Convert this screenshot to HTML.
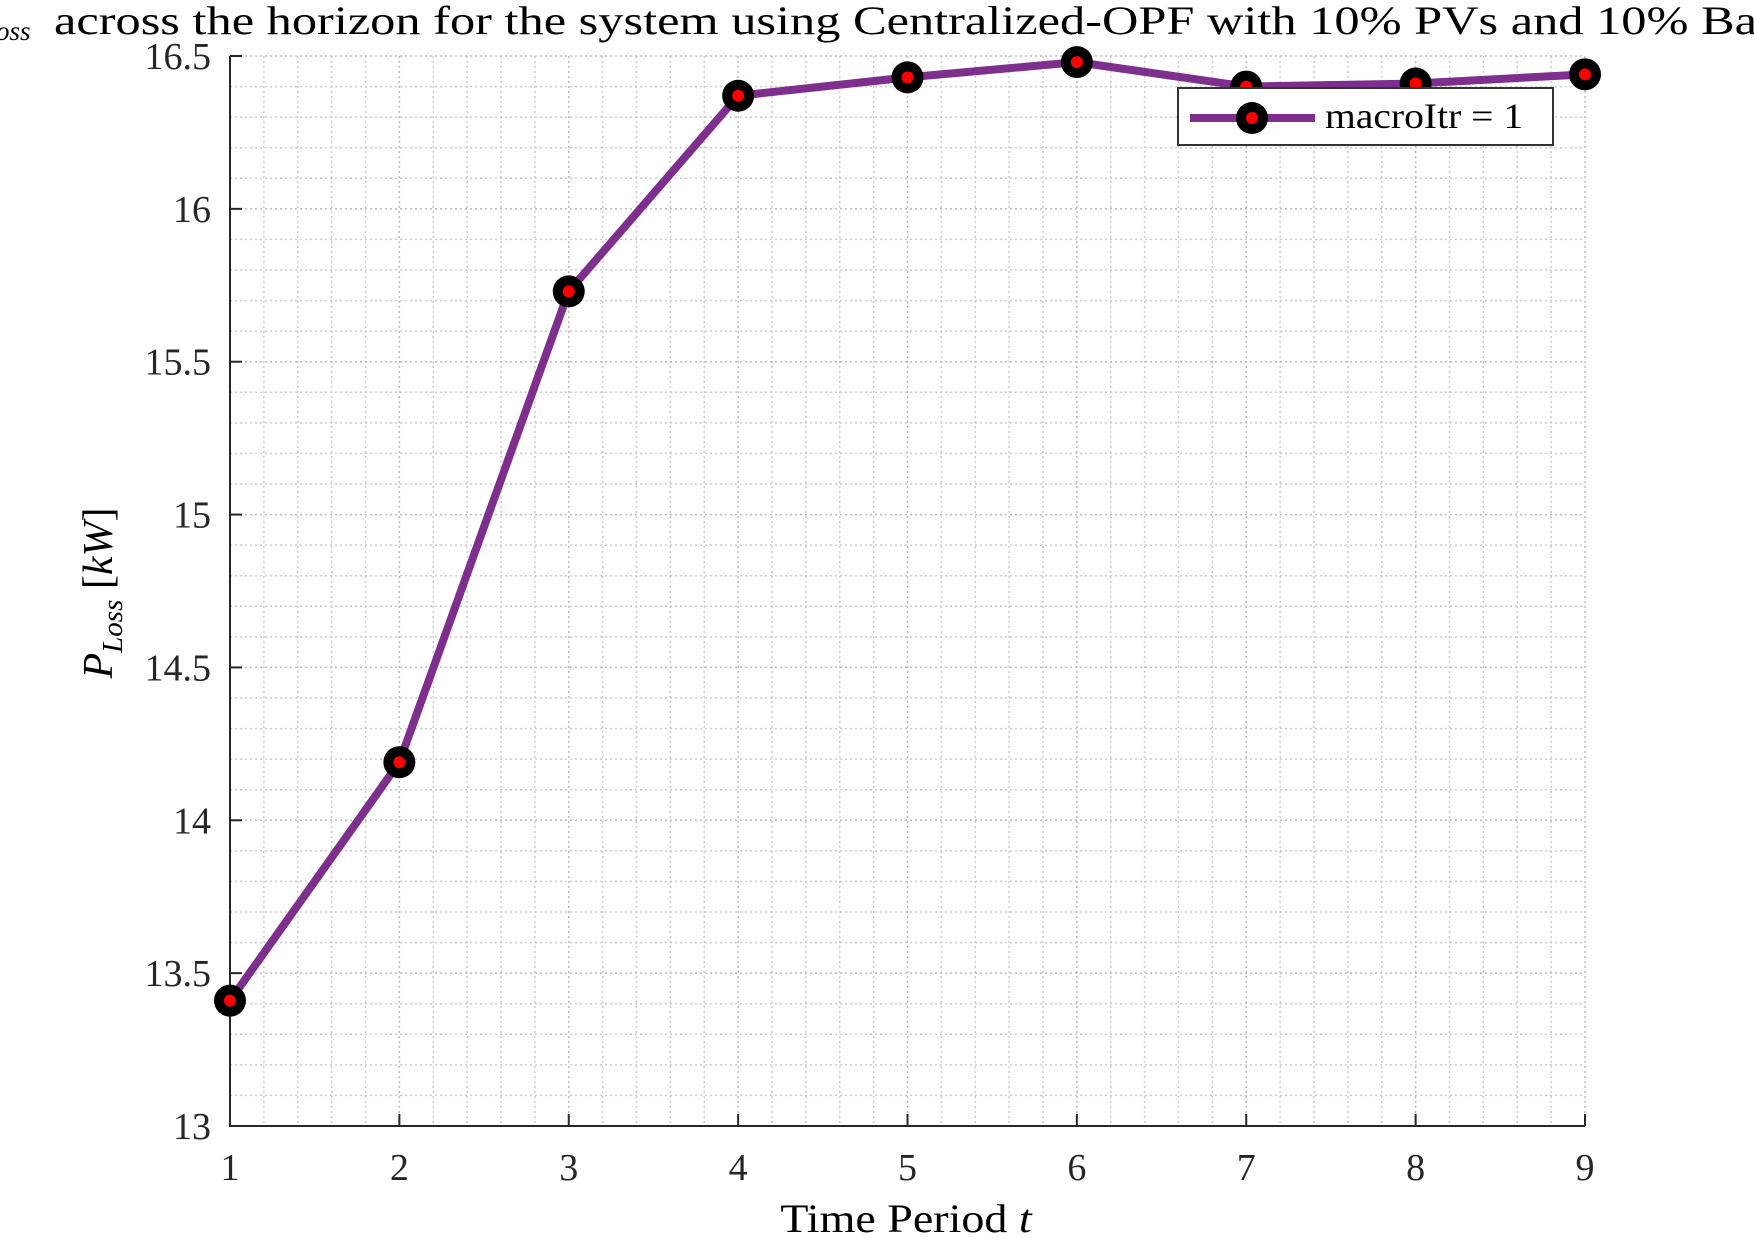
<!DOCTYPE html>
<html><head><meta charset="utf-8"><style>
html,body{margin:0;padding:0;background:#fff;}
svg{display:block;font-family:"Liberation Serif",serif;}
</style></head><body>
<svg id="chart" width="1754" height="1238" viewBox="0 0 1754 1238">
<text x="-4" y="40" font-size="27" font-style="italic">oss</text>
<text x="54" y="34" font-size="40" fill="#000" transform="translate(54 0) scale(1.26 1) translate(-54 0)">across the horizon for the system using Centralized-OPF with 10% PVs and 10% Batteries</text>
<g id="grid"></g>
<g id="axes"></g>
<g id="series"></g>
<text x="112" y="593" font-size="42" text-anchor="middle" transform="rotate(-90 112 593)"><tspan font-style="italic">P</tspan><tspan font-style="italic" font-size="29" dy="10">Loss</tspan><tspan dy="-10"> [</tspan><tspan font-style="italic">kW</tspan>]</text>
<text x="906" y="1232" font-size="40" text-anchor="middle" transform="translate(906 0) scale(1.15 1) translate(-906 0)">Time Period <tspan font-style="italic">t</tspan></text>
<g>
<rect x="1178" y="88" width="375" height="57" fill="#fff" stroke="#333" stroke-width="2"/>
<line x1="1190" y1="118" x2="1315" y2="118" stroke="#7E2F8E" stroke-width="8"/>
<circle cx="1252" cy="118" r="16" fill="#000"/>
<circle cx="1252" cy="118" r="6" fill="#ff0000"/>
<text x="1325" y="128" font-size="36" transform="translate(1325 0) scale(1.1 1) translate(-1325 0)">macroItr = 1</text>
</g>
</svg>
<script>
const periods = [1,2,3,4,5,6,7,8,9];
const lossValues = [13.41,14.19,15.73,16.37,16.43,16.48,16.40,16.41,16.44];
const xTicks = [1,2,3,4,5,6,7,8,9];
const yTicks = [13,13.5,14,14.5,15,15.5,16,16.5];
const yTickLabels = ["13","13.5","14","14.5","15","15.5","16","16.5"];

const L=230,R=1585,T=56,B=1126;
const xMin=1,xMax=9,yMin=13,yMax=16.5;
function sx(v){return L+(v-xMin)/(xMax-xMin)*(R-L);}
function sy(v){return B-(v-yMin)/(yMax-yMin)*(B-T);}
const NS="http://www.w3.org/2000/svg";
function mk(tag,attrs,parent){const e=document.createElementNS(NS,tag);for(const k in attrs)e.setAttribute(k,attrs[k]);parent.appendChild(e);return e;}
const grid=document.getElementById('grid'),axes=document.getElementById('axes'),series=document.getElementById('series');
for(let i=0;i<=40;i++){const v=xMin+i*0.2;const x=sx(v);
 const ln=mk('line',{x1:x,x2:x,y1:T,y2:B,stroke:i%5==0?'#bbb':'#ccc','stroke-width':1.5,'stroke-dasharray':'2,3'},grid);
 
 }
for(let i=0;i<=35;i++){const v=yMin+i*0.1;const y=sy(v);
 const ln=mk('line',{x1:L,x2:R,y1:y,y2:y,stroke:i%5==0?'#bbb':'#ccc','stroke-width':1.5,'stroke-dasharray':'2,3'},grid);
 
 }
const ax=mk('path',{d:`M${L} ${T} L${L} ${B} L${R} ${B}`,fill:'none',stroke:'#262626','stroke-width':2},axes);


xTicks.forEach(v=>{const x=sx(v);
 const t=mk('line',{x1:x,x2:x,y1:B,y2:B-12,stroke:'#262626','stroke-width':2},axes);
 
 
 const tx=mk('text',{x:x,y:1180,'font-size':38,'text-anchor':'middle',fill:'#262626'},axes);tx.textContent=v;
 
 });
yTicks.forEach((v,i)=>{const y=sy(v);
 const t=mk('line',{x1:L,x2:L+12,y1:y,y2:y,stroke:'#262626','stroke-width':2},axes);
 
 
 const tx=mk('text',{x:211,y:y+13,'font-size':38,'text-anchor':'end',fill:'#262626'},axes);tx.textContent=yTickLabels[i];
 
 });
const pts=periods.map((p,i)=>sx(p)+','+sy(lossValues[i])).join(' ');
const pl=mk('polyline',{points:pts,fill:'none',stroke:'#7E2F8E','stroke-width':8,'stroke-linejoin':'round'},series);


periods.forEach((p,i)=>{
 const c=mk('circle',{cx:sx(p),cy:sy(lossValues[i]),r:16,fill:'#000'},series);
 
 
 const c2=mk('circle',{cx:sx(p),cy:sy(lossValues[i]),r:6,fill:'#ff0000'},series);
 
 });
</script>
</body></html>
